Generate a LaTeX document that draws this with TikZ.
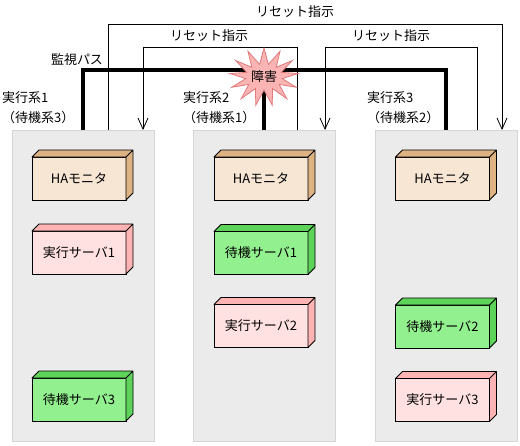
\documentclass[tikz,border=0pt]{standalone}
\usepackage{fontspec}
\setmainfont{Noto Sans CJK JP}
\usepackage{tikz}
\usepackage{xcolor}
\usetikzlibrary{arrows.meta,shapes.symbols}

\definecolor{panelgray}{HTML}{EBEBEB}
\definecolor{panelline}{HTML}{D6D6D6}
\definecolor{monfront}{HTML}{F7E6D4}
\definecolor{monside}{HTML}{DDB383}
\definecolor{actfront}{HTML}{FFE1E1}
\definecolor{actside}{HTML}{FFB3B3}
\definecolor{stbfront}{HTML}{92F08E}
\definecolor{stbside}{HTML}{5DD35A}
\definecolor{faultfill}{HTML}{FAB4B4}
\definecolor{faultline}{HTML}{E07A7A}

\begin{document}
\begin{tikzpicture}[x=1pt, y=-1pt, font=\fontsize{13}{15}\selectfont,
        panel/.style={fill=panelgray, draw=panelline, line width=0.6pt, minimum width=142pt, minimum height=311pt, inner sep=0pt, outer sep=0pt},
        server/.style={draw, line width=0.8pt, minimum width=94pt, minimum height=43pt, inner sep=0pt, outer sep=0pt},
        monitor/.style={server, fill=monfront},
        active/.style={server, fill=actfront},
        standby/.style={server, fill=stbfront},
        reset/.style={line width=0.8pt, -{Straight Barb[length=11pt,width=10pt]}},
        watch/.style={line width=4pt},
        label/.style={anchor=west, align=left, inner sep=0pt, font=\fontsize{13}{20}\selectfont}]
                \useasboundingbox (0, 0) rectangle (520, 445);

                \node[panel] (p_1) at (83, 285.5) {};
                \node[panel] (p_2) at (264, 285.5) {};
                \node[panel] (p_3) at (446, 285.5) {};

                \node[monitor] (b_1m) at (79, 178.5) {HAモニタ};
                \node[active] (b_1a) at (79, 252.5) {実行サーバ1};
                \node[standby] (b_1b) at (79, 399.5) {待機サーバ3};

                \node[monitor] (b_2m) at (261, 178.5) {HAモニタ};
                \node[standby] (b_2b) at (261, 253) {待機サーバ1};
                \node[active] (b_2a) at (261, 326) {実行サーバ2};

                \node[monitor] (b_3m) at (442.5, 178.5) {HAモニタ};
                \node[standby] (b_3b) at (442.5, 326.5) {待機サーバ2};
                \node[active] (b_3a) at (442.5, 400) {実行サーバ3};

                \foreach \n/\c in {b_1m/monside, b_2m/monside, b_3m/monside,
                                   b_1a/actside, b_2a/actside, b_3a/actside,
                                   b_1b/stbside, b_2b/stbside, b_3b/stbside}
                    \draw[line width=0.8pt, fill=\c, line join=round]
                    (\n.north west) -- ++(7, -7) -- ([shift={(7, -7)}]\n.north east)
                    -- ([shift={(7, -7)}]\n.south east) -- (\n.south east) -- (\n.north east) -- cycle
                    (\n.north east) -- ++(7, -7);

                \node[label] (l_1) at (2, 108) {実行系1\\（待機系3）};
                \node[label] (l_2) at (183, 108) {実行系2\\（待機系1）};
                \node[label] (l_3) at (367, 108) {実行系3\\（待機系2）};

                \coordinate (p_1o) at ([xshift=25pt]p_1.north);
                \coordinate (p_1i) at ([xshift=60pt]p_1.north);
                \coordinate (p_2o) at ([xshift=33pt]p_2.north);
                \coordinate (p_2i) at ([xshift=61pt]p_2.north);
                \coordinate (p_3o) at ([xshift=31pt]p_3.north);
                \coordinate (p_3i) at ([xshift=56pt]p_3.north);
                \coordinate (rs_top) at (0, 24);
                \coordinate (rs_mid) at (0, 47);
                \coordinate (mon_y) at (0, 70);
                \coordinate (fault_c) at (264, 77);

                \draw[reset] (p_1o) |- (rs_top -| p_3i) -- (p_3i);
                \draw[reset] (p_2o) |- (rs_mid -| p_1i) -- (p_1i);
                \draw[reset] (p_3o) |- (rs_mid -| p_2i) -- (p_2i);

                \draw[watch]
                (p_1.north) |- (mon_y -| p_3.north) -- (p_3.north)
                (fault_c) -- (p_2.north);

                \node[starburst, fill=faultfill, draw=faultline, line width=0.8pt, starburst points=13, starburst point height=16pt, random starburst=0, minimum width=68pt, minimum height=58pt, inner sep=0pt] (fault) at (fault_c) {障害};

                \node[] (t_all) at (295, 12) {リセット指示};
                \node[] (t_left) at (209, 36) {リセット指示};
                \node[] (t_right) at (391, 36) {リセット指示};
                \node[] (t_watch) at (77, 60) {監視パス};
            \end{tikzpicture}
\end{document}
